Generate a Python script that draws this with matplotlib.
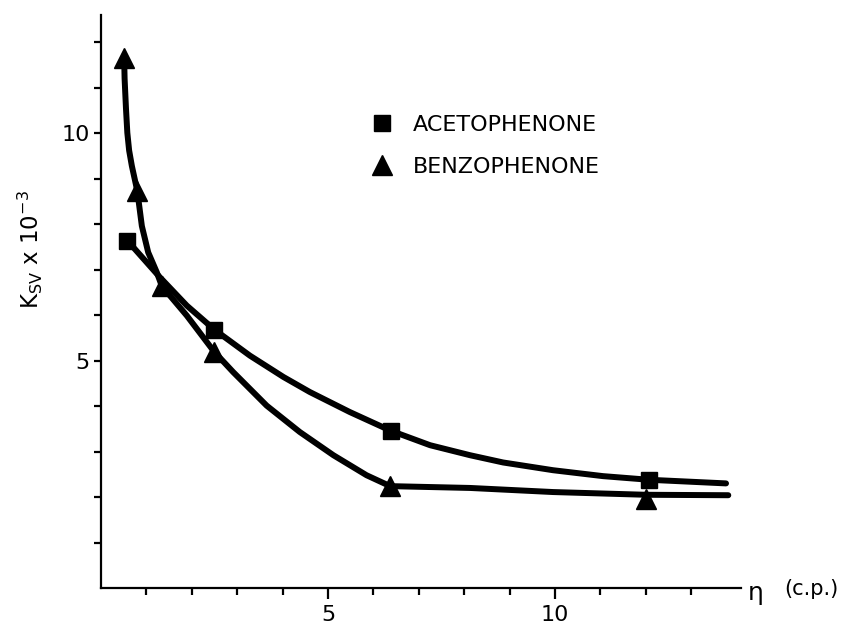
import matplotlib.pyplot as plt
from matplotlib.ticker import FixedLocator, NullFormatter

# measured points (viscosity in c.p., Ksv x 10^-3)
aceto_x = [0.58, 2.50, 6.38, 12.07]
aceto_y = [7.64, 5.68, 3.46, 2.38]
benzo_x = [0.51, 0.80, 1.34, 2.49, 6.37, 12.0]
benzo_y = [11.66, 8.73, 6.64, 5.20, 2.24, 1.96]

# hand-drawn fit curves
aceto_curve_x = [0.58, 1.30, 1.89, 2.50, 3.28, 4.02, 4.60, 5.48, 6.38, 7.25,
                 8.13, 8.86, 9.96, 11.06, 12.07, 13.77]
aceto_curve_y = [7.64, 6.83, 6.21, 5.68, 5.11, 4.64, 4.31, 3.87, 3.46, 3.14,
                 2.92, 2.76, 2.59, 2.46, 2.38, 2.30]
benzo_curve_x = [0.51, 0.52, 0.55, 0.58, 0.62, 0.68, 0.80, 0.90, 1.04, 1.23,
                 1.34, 1.89, 2.49, 2.91, 3.65, 4.38, 5.12, 5.85, 6.37,
                 8.13, 9.96, 12.0, 13.82]
benzo_curve_y = [11.66, 11.20, 10.55, 10.01, 9.62, 9.28, 8.73, 7.96, 7.38, 6.94,
                 6.64, 5.99, 5.20, 4.75, 4.01, 3.43, 2.92, 2.48, 2.24,
                 2.20, 2.11, 2.05, 2.04]

x_major = [5, 10]
x_minor = [1, 2, 3, 4, 6, 7, 8, 9, 11, 12, 13]
y_major = [5, 10]
y_minor = [1, 2, 3, 4, 6, 7, 8, 9, 11, 12]

fig = plt.figure(figsize=(8.51, 6.3), dpi=100)
ax = fig.add_axes([101 / 851, 42 / 630, 640 / 851, 573 / 630])

ax.plot(aceto_curve_x, aceto_curve_y, color='black', lw=4.3,
        solid_capstyle='round', solid_joinstyle='round')
ax.plot(benzo_curve_x, benzo_curve_y, color='black', lw=4.3,
        solid_capstyle='round', solid_joinstyle='round')
ax.plot(aceto_x, aceto_y, 's', color='black', ms=12, ls='none', label='ACETOPHENONE')
ax.plot(benzo_x, benzo_y, '^', color='black', ms=14, ls='none', label='BENZOPHENONE')

ax.set_xlim(0, 14.1)
ax.set_ylim(0, 12.6)
for side in ['top', 'right']:
    ax.spines[side].set_visible(False)
for side in ['left', 'bottom']:
    ax.spines[side].set_linewidth(1.6)

ax.xaxis.set_major_locator(FixedLocator(x_major))
ax.xaxis.set_minor_locator(FixedLocator(x_minor))
ax.yaxis.set_major_locator(FixedLocator(y_major))
ax.yaxis.set_minor_locator(FixedLocator(y_minor))
ax.xaxis.set_minor_formatter(NullFormatter())
ax.yaxis.set_minor_formatter(NullFormatter())
ax.tick_params(axis='x', which='major', length=8, width=1.6, labelsize=16, pad=4)
ax.tick_params(axis='x', which='minor', length=5, width=1.6)
ax.tick_params(axis='y', which='both', length=5, width=1.6, labelsize=16, pad=3)

ax.text(1.01, -0.008, 'η', transform=ax.transAxes, fontsize=18,
        ha='left', va='center')
ax.text(1.068, -0.002, '(c.p.)', transform=ax.transAxes, fontsize=15,
        ha='left', va='center')

fig.text(30 / 851, 1 - 250 / 630, r'$\mathregular{K_{SV}\ x\ 10^{-3}}$',
         rotation=90, fontsize=16.5, ha='center', va='center')

ax.legend(loc='upper left', bbox_to_anchor=(371 / 851, 1 - 115 / 630),
          bbox_transform=fig.transFigure, frameon=False, fontsize=16,
          handlelength=1.0, handletextpad=0.9, borderpad=0, borderaxespad=0,
          labelspacing=0.98)

fig.savefig('out.png', dpi=100)
